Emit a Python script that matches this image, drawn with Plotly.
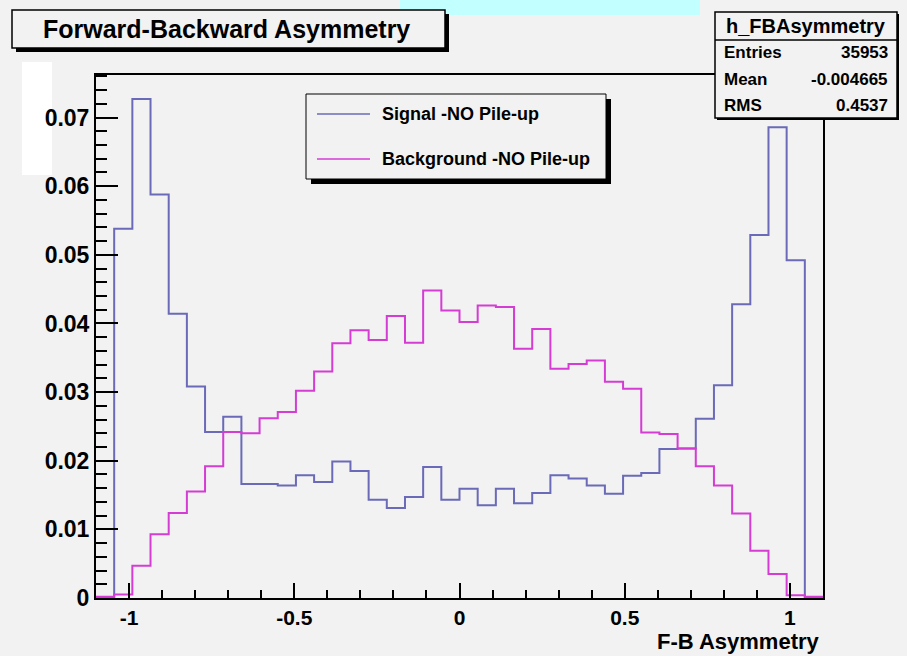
import plotly.graph_objects as go

# ---- data ----
bin_edges = [-1.1, -1.045, -0.99, -0.935, -0.88, -0.825, -0.77, -0.715, -0.66, -0.605,
             -0.55, -0.495, -0.44, -0.385, -0.33, -0.275, -0.22, -0.165, -0.11, -0.055,
             0.0, 0.055, 0.11, 0.165, 0.22, 0.275, 0.33, 0.385, 0.44, 0.495,
             0.55, 0.605, 0.66, 0.715, 0.77, 0.825, 0.88, 0.935, 0.99, 1.045, 1.1]

signal = [0.0, 0.0538, 0.0727, 0.0588, 0.0414, 0.0308, 0.0242, 0.0264, 0.0166, 0.0166,
          0.0164, 0.0179, 0.0169, 0.0199, 0.0185, 0.0143, 0.0131, 0.0147, 0.0191, 0.0143,
          0.0159, 0.0135, 0.0159, 0.0138, 0.0153, 0.0179, 0.0174, 0.0164, 0.0152, 0.0178,
          0.0182, 0.0217, 0.0218, 0.0261, 0.0310, 0.0428, 0.0529, 0.0686, 0.0492, 0.0]

background = [0.0002, 0.0005, 0.0047, 0.0093, 0.0124, 0.0155, 0.0192, 0.0242, 0.0240, 0.0262,
              0.0271, 0.0302, 0.0330, 0.0371, 0.0390, 0.0376, 0.0411, 0.0372, 0.0448, 0.0419,
              0.0402, 0.0426, 0.0424, 0.0363, 0.0392, 0.0334, 0.0341, 0.0346, 0.0315, 0.0305,
              0.0241, 0.0239, 0.0218, 0.0192, 0.0164, 0.0123, 0.0069, 0.0035, 0.0004, 0.0002]

x_tick_vals = [-1, -0.5, 0, 0.5, 1]
x_tick_text = ["-1", "-0.5", "0", "0.5", "1"]
y_tick_vals = [0, 0.01, 0.02, 0.03, 0.04, 0.05, 0.06, 0.07]
y_tick_text = ["0", "0.01", "0.02", "0.03", "0.04", "0.05", "0.06", "0.07"]

series_names = ["Signal -NO Pile-up", "Background -NO Pile-up"]
series_colors = ["#6a6ab8", "#d43cd4"]

title_text = "Forward-Backward Asymmetry"
x_title = "F-B Asymmetry"
stats_name = "h_FBAsymmetry"
stats_labels = ["Entries", "Mean", "RMS"]
stats_values = ["35953", "-0.004665", "0.4537"]

# ---- layout geometry (pixels) ----
W, H = 907, 656
L, R, T, B = 96, 823, 75, 598
BG = "#f2f2f2"
FONT = "Liberation Sans, Arial, Helvetica, sans-serif"


def px(x):
    return (x - L) / (R - L)


def py(y):
    return (B - y) / (B - T)


def step_xy(vals):
    xs = list(bin_edges)
    ys = list(vals) + [vals[-1]]
    return xs, ys


fig = go.Figure()
for vals, name, col in zip([signal, background], series_names, series_colors):
    xs, ys = step_xy(vals)
    fig.add_trace(go.Scatter(x=xs, y=ys, mode="lines", line=dict(shape="hv", color=col, width=2),
                             name=name, showlegend=False, hoverinfo="skip"))

shapes = []


def rect(x0, y0, x1, y1, fill=None, line=None, lw=1, layer="above"):
    shapes.append(dict(type="rect", xref="paper", yref="paper",
                       x0=px(x0), x1=px(x1), y0=py(y1), y1=py(y0),
                       fillcolor=fill if fill else "rgba(0,0,0,0)",
                       line=dict(color=line if line else "rgba(0,0,0,0)", width=lw if line else 0),
                       layer=layer))


def hline(x0, x1, y, color="black", lw=1):
    shapes.append(dict(type="line", xref="paper", yref="paper",
                       x0=px(x0), x1=px(x1), y0=py(y), y1=py(y),
                       line=dict(color=color, width=lw), layer="above"))


# cyan banner at top (cropped slide title)
rect(400, -2, 700, 15, fill="#c2ffff", layer="below")
# white patch at left
rect(22, 62, 52, 175, fill="#ffffff", layer="below")

# title box with shadow
rect(16, 14, 449, 52, fill="black")
rect(12, 10, 445, 48, fill=BG, line="black", lw=1.5)

# stats box
rect(717, 14, 899, 120, fill="black")
rect(715, 12, 897, 118, fill=BG, line="black", lw=1.5)
hline(715, 897, 40, lw=1.5)

# legend box with shadow
rect(311, 99, 611, 184, fill="black")
rect(306, 94, 606, 179, fill=BG, line="black", lw=1)
hline(317, 370, 114, color=series_colors[0], lw=1.5)
hline(317, 370, 159, color=series_colors[1], lw=1.5)

annotations = []


def text(x, y, s, size, anchor="left"):
    annotations.append(dict(xref="paper", yref="paper", x=px(x), y=py(y), text=s,
                            showarrow=False, xanchor=anchor, yanchor="middle",
                            font=dict(family=FONT, size=size, color="black", weight="bold")))


text(226, 29, title_text, 25, anchor="center")
text(806, 26, stats_name, 20, anchor="center")
for i, (lab, val) in enumerate(zip(stats_labels, stats_values)):
    yy = 53 + i * 26
    text(722, yy, lab, 17)
    text(890, yy, val, 17, anchor="right")
text(380, 114, series_names[0], 18)
text(380, 159, series_names[1], 18)
text(822, 641, x_title, 22, anchor="right")

fig.update_layout(
    width=W, height=H,
    margin=dict(l=L, r=W - R, t=T, b=H - B, pad=0),
    paper_bgcolor=BG, plot_bgcolor=BG,
    shapes=shapes, annotations=annotations,
    showlegend=False,
    xaxis=dict(range=[-1.1, 1.1], tickvals=x_tick_vals, ticktext=x_tick_text,
               ticks="inside", ticklen=15, tickwidth=1.5, tickcolor="black",
               minor=dict(dtick=0.1, tick0=0, ticks="inside", ticklen=8, tickwidth=1.5, tickcolor="black"),
               showline=True, linecolor="black", linewidth=2, mirror=True,
               showgrid=False, zeroline=False,
               tickfont=dict(family=FONT, size=21, color="black", weight="bold")),
    yaxis=dict(range=[0, 0.0762], tickvals=y_tick_vals, ticktext=y_tick_text,
               ticks="inside", ticklen=22, tickwidth=1.5, tickcolor="black",
               minor=dict(dtick=0.002, tick0=0, ticks="inside", ticklen=11, tickwidth=1.5, tickcolor="black"),
               showline=True, linecolor="black", linewidth=2, mirror=True,
               showgrid=False, zeroline=False,
               tickfont=dict(family=FONT, size=23, color="black", weight="bold")),
)

fig.write_html("out.html")
